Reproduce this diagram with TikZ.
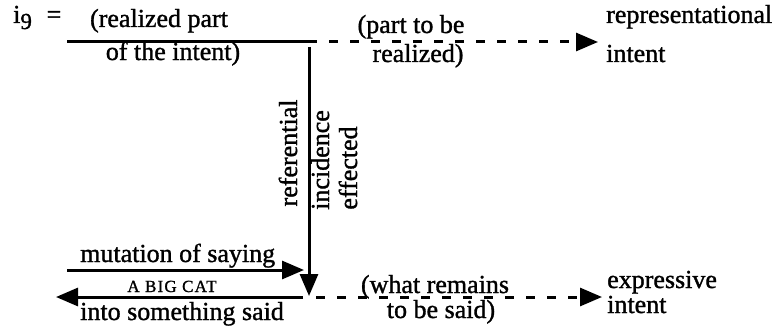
\documentclass[tikz,border=0pt]{standalone}
\usepackage{fontspec}
\setmainfont{Liberation Serif}[FakeBold=1.2]
\usetikzlibrary{arrows.meta}
\begin{document}
\begin{tikzpicture}[x=1pt,y=-1pt,
  txt/.style={inner sep=0pt, font=\fontsize{26}{28}\selectfont, anchor=base},
  txtl/.style={txt, anchor=base west},
  vtxt/.style={txt, rotate=90},
  ln/.style={line width=3pt},
  dsh/.style={line width=3pt, dash pattern=on 9pt off 12pt},
  tip/.style={-{Triangle[length=22pt,width=18pt]}}]
\useasboundingbox (0,0) rectangle (775,329);
% texts
\node[txtl] (i9) at (13,23) {i\raisebox{-6pt}{\fontsize{23}{23}\selectfont 9}};
\node[txt] (eq) at (54,23) {=};
\node[txt] (rp) at (159,27) {(realized part};
\node[txt] (oi) at (173,60) {of the intent)};
\node[txt] (ptb) at (411,33) {(part to be};
\node[txt] (rz) at (418,62) {realized)};
\node[txtl] (rep) at (606,23) {representational};
\node[txtl] (int1) at (606,62) {intent};
\node[vtxt] (ref) at (297,153) {referential};
\node[vtxt] (inc) at (329,160) {incidence};
\node[vtxt] (eff) at (357,168) {effected};
\node[txtl] (mut) at (80,262) {mutation of saying};
\node[txt, font=\fontsize{17}{18}\selectfont\addfontfeatures{LetterSpace=7}] (cat) at (172,292) {A BIG CAT};
\node[txtl] (into) at (80,320) {into something said};
\node[txt] (wr) at (435,293) {(what remains};
\node[txt] (tbs) at (441,318) {to be said)};
\node[txtl] (exp) at (607,288) {expressive};
\node[txtl] (int2) at (607,313) {intent};
% connector points
\coordinate (a1) at (67,42);
\coordinate (a2) at (308,42);
\coordinate (a3) at (598,42);
\coordinate (v1) at (309,47);
\coordinate (v2) at (309,296);
\coordinate (m1) at (67,270);
\coordinate (m2) at (304,270);
\coordinate (b1) at (303,297);
\coordinate (b2) at (56,297);
\coordinate (c1) at (316,297);
\coordinate (c2) at (602,297);
% connectors
\draw[ln] (a1) -- (a2);
\draw[dsh, tip] (a2) -- (a3);
\draw[ln, tip] (v1) -- (v2);
\draw[ln, tip] (m1) -- (m2);
\draw[ln, tip] (b1) -- (b2);
\draw[dsh, tip] (c1) -- (c2);
\end{tikzpicture}
\end{document}
